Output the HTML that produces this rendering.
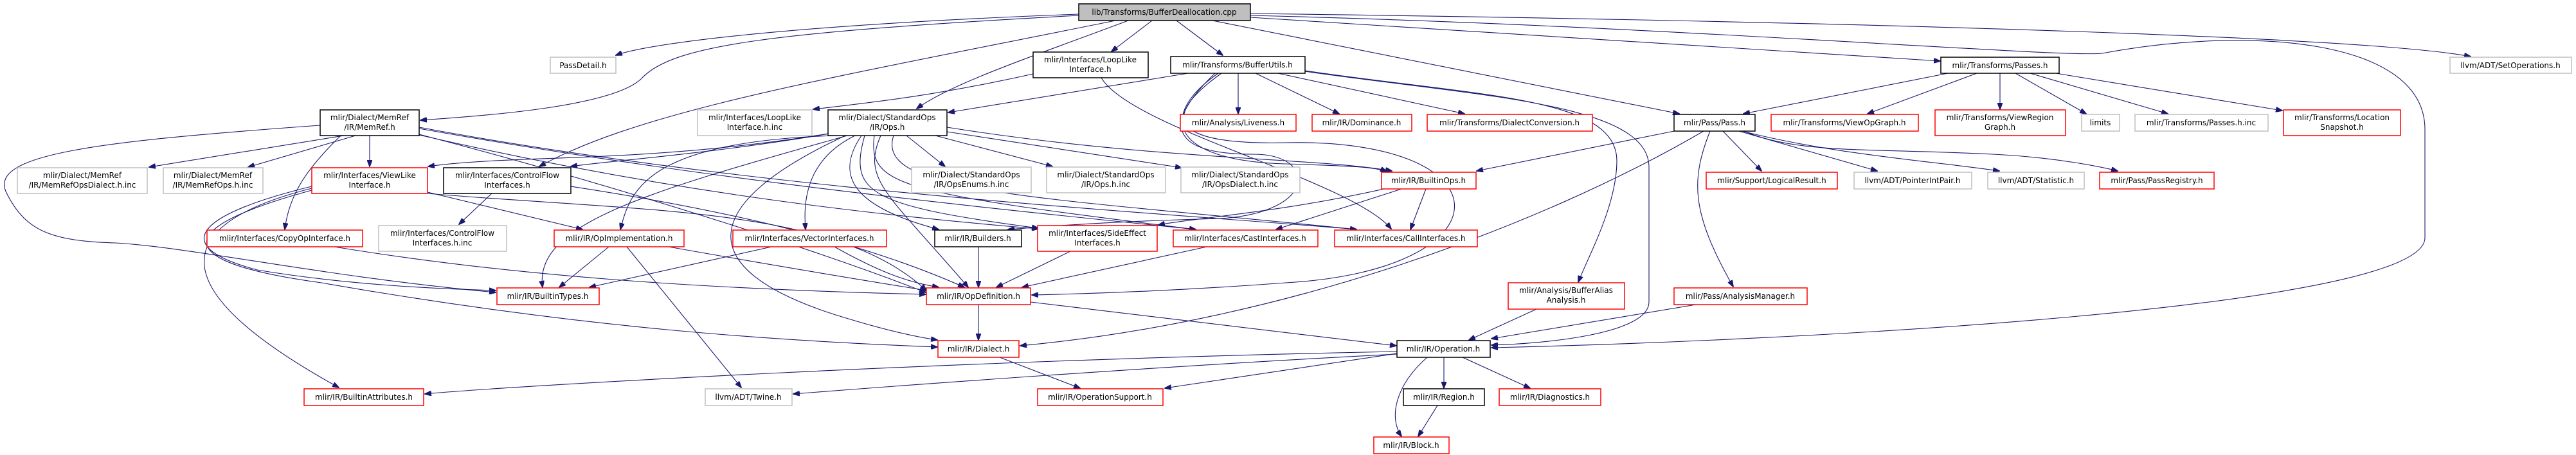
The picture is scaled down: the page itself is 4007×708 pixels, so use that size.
<!DOCTYPE html>
<html><head><meta charset="utf-8"><style>
html,body{margin:0;padding:0;background:#fff;}
svg{display:block;}
text{font-family:"DejaVu Sans","Liberation Sans",sans-serif;font-size:12px;fill:#000;text-anchor:middle;}
.g{fill:#fff;stroke:#bfbfbf;stroke-width:1.5}
.r{fill:#fff;stroke:#ff0000;stroke-width:1.5}
.b{fill:#fff;stroke:#000;stroke-width:1.5}
.e{fill:none;stroke:#191970;stroke-width:1.1}
</style></head><body>
<svg width="4007" height="708" viewBox="0 0 4007 708" xmlns="http://www.w3.org/2000/svg">
<defs><marker id="a" markerWidth="11" markerHeight="8" refX="10" refY="4" orient="auto" markerUnits="userSpaceOnUse"><path d="M0,0 L11,4 L0,8 z" fill="#191970" stroke="#191970"/></marker></defs>
<g marker-end="url(#a)">
<path class="e" d="M1678,22 C1200,40 1000,70 958,86"/>
<path class="e" d="M1678,24 C1200,50 1050,70 1000,120 C960,165 760,180 654,187"/>
<path class="e" d="M1755,32 C1600,90 1480,130 1426,169"/>
<path class="e" d="M1735,32 C1300,120 1000,170 839,259"/>
<path class="e" d="M1792,32 L1729,80"/>
<path class="e" d="M1830,32 L1902,86"/>
<path class="e" d="M1886,32 L2612,177"/>
<path class="e" d="M1945,27 L3018,95"/>
<path class="e" d="M1945,21 C3000,35 3700,60 3843,88"/>
<path class="e" d="M1945,24 C2600,40 3200,90 3270,83 C3500,40 3770,60 3772,200 L3772,370 C3772,480 2800,530 2320,541"/>
<path class="e" d="M1607,115 C1450,150 1350,160 1265,170"/>
<path class="e" d="M1713,121 C1760,200 2100,280 2164,356"/>
<path class="e" d="M1848,114 L1475,175"/>
<path class="e" d="M1926,114 L1926,177"/>
<path class="e" d="M1953,114 L2083,177"/>
<path class="e" d="M1988,114 L2278,177"/>
<path class="e" d="M2030,110 C2300,150 2515,150 2515,250 C2515,320 2470,400 2455,439"/>
<path class="e" d="M2030,111 C2300,150 2565,160 2565,260 L2565,470 C2565,520 2400,535 2320,537"/>
<path class="e" d="M1895,114 C1800,180 1820,250 2000,255 C2100,258 2140,260 2157,267"/>
<path class="e" d="M1900,114 C1780,200 1860,225 2000,222 C2350,215 2350,420 2000,440 C1800,455 1650,458 1605,459"/>
<path class="e" d="M1890,114 C1800,200 1830,240 1950,240 C2050,240 2050,330 1900,340 C1700,345 1600,355 1568,357"/>
<path class="e" d="M1410,211 L1470,259"/>
<path class="e" d="M1455,211 L1637,259"/>
<path class="e" d="M1473,205 L1838,261"/>
<path class="e" d="M1473,198 C1800,250 2050,245 2165,266"/>
<path class="e" d="M1288,208 C1000,255 800,240 666,259"/>
<path class="e" d="M1290,208 C1100,240 950,250 888,259"/>
<path class="e" d="M1300,211 C1000,220 980,300 965,357"/>
<path class="e" d="M1318,211 C1000,300 830,350 844,447"/>
<path class="e" d="M1330,211 C1250,250 1250,320 1253,357"/>
<path class="e" d="M1340,211 C1300,270 1320,320 1460,357"/>
<path class="e" d="M1345,211 C1320,300 1350,320 1615,355"/>
<path class="e" d="M1360,211 C1350,290 1400,300 1860,357"/>
<path class="e" d="M1390,211 C1360,300 1600,305 2110,357"/>
<path class="e" d="M1370,211 C1340,280 1380,300 1506,447"/>
<path class="e" d="M1315,211 C1080,320 1080,420 1300,490 C1380,515 1430,525 1458,529"/>
<path class="e" d="M535,211 L232,260"/>
<path class="e" d="M553,211 L386,260"/>
<path class="e" d="M575,211 L575,259"/>
<path class="e" d="M530,211 C480,260 450,300 443,357"/>
<path class="e" d="M498,195 C150,220 -20,240 10,300 C40,360 80,375 180,378 C300,385 500,430 771,455"/>
<path class="e" d="M652,200 C1100,280 1500,320 1860,357"/>
<path class="e" d="M652,210 C1000,290 1300,330 1615,356"/>
<path class="e" d="M652,198 C1200,300 1800,330 2110,357"/>
<path class="e" d="M652,209 C1000,300 1300,400 1440,455"/>
<path class="e" d="M665,299 L906,357"/>
<path class="e" d="M485,290 C320,330 250,380 400,420 C550,445 700,450 771,452"/>
<path class="e" d="M485,293 C260,350 250,450 527,603"/>
<path class="e" d="M485,296 C250,360 280,410 500,440 C900,510 1200,530 1458,540"/>
<path class="e" d="M665,301 C1000,330 1300,320 1441,452"/>
<path class="e" d="M765,301 L714,349"/>
<path class="e" d="M888,290 C1150,330 1350,380 1500,447"/>
<path class="e" d="M520,384 C800,430 1100,450 1440,458"/>
<path class="e" d="M947,384 L870,447"/>
<path class="e" d="M975,384 L1153,603"/>
<path class="e" d="M1040,384 C1300,430 1400,445 1441,452"/>
<path class="e" d="M1200,384 L917,447"/>
<path class="e" d="M1298,384 C1380,430 1420,440 1460,447"/>
<path class="e" d="M1522,384 L1522,447"/>
<path class="e" d="M1665,391 L1550,447"/>
<path class="e" d="M1877,384 L1590,447"/>
<path class="e" d="M2218,294 L2194,357"/>
<path class="e" d="M2180,294 L1985,357"/>
<path class="e" d="M2170,290 C2000,330 1850,340 1802,350"/>
<path class="e" d="M1522,474 L1522,529"/>
<path class="e" d="M1603,470 L2172,538"/>
<path class="e" d="M1555,556 L1680,604"/>
<path class="e" d="M2246,556 L2246,604"/>
<path class="e" d="M2275,556 L2380,604"/>
<path class="e" d="M2220,556 C2170,600 2160,650 2180,679"/>
<path class="e" d="M2236,631 L2206,679"/>
<path class="e" d="M2173,550 L1812,604"/>
<path class="e" d="M2173,547 C1500,560 800,600 661,613"/>
<path class="e" d="M2173,551 C1800,570 1400,600 1234,613"/>
<path class="e" d="M2390,481 L2285,529"/>
<path class="e" d="M2638,474 L2320,527"/>
<path class="e" d="M2604,204 L2297,266"/>
<path class="e" d="M2650,204 C2400,350 2000,500 1587,538"/>
<path class="e" d="M2680,204 L2740,266"/>
<path class="e" d="M2705,204 L2920,266"/>
<path class="e" d="M2710,204 C2850,240 3000,250 3110,266"/>
<path class="e" d="M2712,204 C2800,240 2900,230 3100,240 C3200,245 3270,260 3294,266"/>
<path class="e" d="M2660,204 C2630,280 2630,330 2696,446"/>
<path class="e" d="M3030,114 C2900,140 2800,160 2712,177"/>
<path class="e" d="M3075,114 L2905,177"/>
<path class="e" d="M3111,114 L3111,170"/>
<path class="e" d="M3135,114 L3245,177"/>
<path class="e" d="M3158,114 L3372,177"/>
<path class="e" d="M3198,114 L3550,172"/>
</g>
<!-- nodes -->
<rect x="1678" y="6" width="267" height="26" fill="#bfbfbf" stroke="#000" stroke-width="1.5"/><text x="1811" y="23">lib/Transforms/BufferDeallocation.cpp</text>
<rect class="g" x="856" y="89" width="102" height="25"/><text x="907" y="106">PassDetail.h</text>
<rect class="b" x="498" y="171" width="154" height="40"/><text x="575" y="187">mlir/Dialect/MemRef</text><text x="575" y="202">/IR/MemRef.h</text>
<rect class="g" x="1085" y="171" width="178" height="40"/><text x="1174" y="187">mlir/Interfaces/LoopLike</text><text x="1174" y="202">Interface.h.inc</text>
<rect class="g" x="27" y="261" width="202" height="40"/><text x="128" y="277">mlir/Dialect/MemRef</text><text x="128" y="292">/IR/MemRefOpsDialect.h.inc</text>
<rect class="g" x="254" y="261" width="155" height="40"/><text x="331" y="277">mlir/Dialect/MemRef</text><text x="331" y="292">/IR/MemRefOps.h.inc</text>
<rect class="r" x="485" y="261" width="180" height="40"/><text x="575" y="277">mlir/Interfaces/ViewLike</text><text x="575" y="292">Interface.h</text>
<rect class="b" x="690" y="261" width="198" height="40"/><text x="789" y="277">mlir/Interfaces/ControlFlow</text><text x="789" y="292">Interfaces.h</text>
<rect class="r" x="322" y="358" width="242" height="26"/><text x="443" y="375">mlir/Interfaces/CopyOpInterface.h</text>
<rect class="g" x="589" y="351" width="199" height="40"/><text x="688" y="367">mlir/Interfaces/ControlFlow</text><text x="688" y="382">Interfaces.h.inc</text>
<rect class="r" x="862" y="358" width="202" height="26"/><text x="963" y="375">mlir/IR/OpImplementation.h</text>
<rect class="r" x="1140" y="358" width="239" height="26"/><text x="1259" y="375">mlir/Interfaces/VectorInterfaces.h</text>
<rect class="r" x="773" y="448" width="159" height="26"/><text x="852" y="465">mlir/IR/BuiltinTypes.h</text>
<rect class="r" x="473" y="605" width="186" height="26"/><text x="566" y="622">mlir/IR/BuiltinAttributes.h</text>
<rect class="g" x="1097" y="605" width="135" height="26"/><text x="1164" y="622">llvm/ADT/Twine.h</text>
<rect class="b" x="1607" y="81" width="179" height="40"/><text x="1696" y="97">mlir/Interfaces/LoopLike</text><text x="1696" y="112">Interface.h</text>
<rect class="b" x="1821" y="88" width="209" height="26"/><text x="1925" y="105">mlir/Transforms/BufferUtils.h</text>
<rect class="b" x="1288" y="171" width="185" height="40"/><text x="1380" y="187">mlir/Dialect/StandardOps</text><text x="1380" y="202">/IR/Ops.h</text>
<rect class="g" x="1418" y="260" width="186" height="40"/><text x="1511" y="276">mlir/Dialect/StandardOps</text><text x="1511" y="291">/IR/OpsEnums.h.inc</text>
<rect class="g" x="1628" y="260" width="185" height="40"/><text x="1720" y="276">mlir/Dialect/StandardOps</text><text x="1720" y="291">/IR/Ops.h.inc</text>
<rect class="g" x="1837" y="260" width="185" height="40"/><text x="1929" y="276">mlir/Dialect/StandardOps</text><text x="1929" y="291">/IR/OpsDialect.h.inc</text>
<rect class="r" x="1836" y="178" width="180" height="26"/><text x="1926" y="195">mlir/Analysis/Liveness.h</text>
<rect class="r" x="2041" y="178" width="155" height="26"/><text x="2118" y="195">mlir/IR/Dominance.h</text>
<rect class="r" x="2220" y="178" width="257" height="26"/><text x="2348" y="195">mlir/Transforms/DialectConversion.h</text>
<rect class="b" x="2604" y="178" width="126" height="26"/><text x="2667" y="195">mlir/Pass/Pass.h</text>
<rect class="r" x="2149" y="268" width="147" height="26"/><text x="2222" y="285">mlir/IR/BuiltinOps.h</text>
<rect class="b" x="1454" y="358" width="135" height="26"/><text x="1521" y="375">mlir/IR/Builders.h</text>
<rect class="r" x="1614" y="351" width="186" height="40"/><text x="1707" y="367">mlir/Interfaces/SideEffect</text><text x="1707" y="382">Interfaces.h</text>
<rect class="r" x="1825" y="358" width="225" height="26"/><text x="1937" y="375">mlir/Interfaces/CastInterfaces.h</text>
<rect class="r" x="2076" y="358" width="222" height="26"/><text x="2187" y="375">mlir/Interfaces/CallInterfaces.h</text>
<rect class="r" x="1441" y="448" width="162" height="26"/><text x="1522" y="465">mlir/IR/OpDefinition.h</text>
<rect class="r" x="2346" y="440" width="181" height="41"/><text x="2436" y="456">mlir/Analysis/BufferAlias</text><text x="2436" y="471">Analysis.h</text>
<rect class="r" x="2604" y="448" width="207" height="26"/><text x="2707" y="465">mlir/Pass/AnalysisManager.h</text>
<rect class="r" x="1459" y="530" width="126" height="26"/><text x="1522" y="547">mlir/IR/Dialect.h</text>
<rect class="b" x="2173" y="530" width="145" height="26"/><text x="2245" y="547">mlir/IR/Operation.h</text>
<rect class="r" x="1614" y="605" width="195" height="26"/><text x="1711" y="622">mlir/IR/OperationSupport.h</text>
<rect class="b" x="2183" y="605" width="126" height="26"/><text x="2246" y="622">mlir/IR/Region.h</text>
<rect class="r" x="2332" y="605" width="158" height="26"/><text x="2411" y="622">mlir/IR/Diagnostics.h</text>
<rect class="r" x="2137" y="680" width="117" height="26"/><text x="2195" y="697">mlir/IR/Block.h</text>
<rect class="b" x="3019" y="89" width="184" height="25"/><text x="3111" y="106">mlir/Transforms/Passes.h</text>
<rect class="g" x="3811" y="89" width="189" height="25"/><text x="3905" y="106">llvm/ADT/SetOperations.h</text>
<rect class="r" x="2755" y="178" width="229" height="26"/><text x="2869" y="195">mlir/Transforms/ViewOpGraph.h</text>
<rect class="r" x="3010" y="171" width="203" height="40"/><text x="3111" y="187">mlir/Transforms/ViewRegion</text><text x="3111" y="202">Graph.h</text>
<rect class="g" x="3238" y="178" width="59" height="26"/><text x="3267" y="195">limits</text>
<rect class="g" x="3321" y="178" width="207" height="26"/><text x="3424" y="195">mlir/Transforms/Passes.h.inc</text>
<rect class="r" x="3552" y="171" width="182" height="40"/><text x="3643" y="187">mlir/Transforms/Location</text><text x="3643" y="202">Snapshot.h</text>
<rect class="r" x="2654" y="268" width="204" height="26"/><text x="2756" y="285">mlir/Support/LogicalResult.h</text>
<rect class="g" x="2884" y="268" width="183" height="26"/><text x="2975" y="285">llvm/ADT/PointerIntPair.h</text>
<rect class="g" x="3092" y="268" width="150" height="26"/><text x="3167" y="285">llvm/ADT/Statistic.h</text>
<rect class="r" x="3266" y="268" width="178" height="26"/><text x="3355" y="285">mlir/Pass/PassRegistry.h</text>
</svg>
</body></html>
